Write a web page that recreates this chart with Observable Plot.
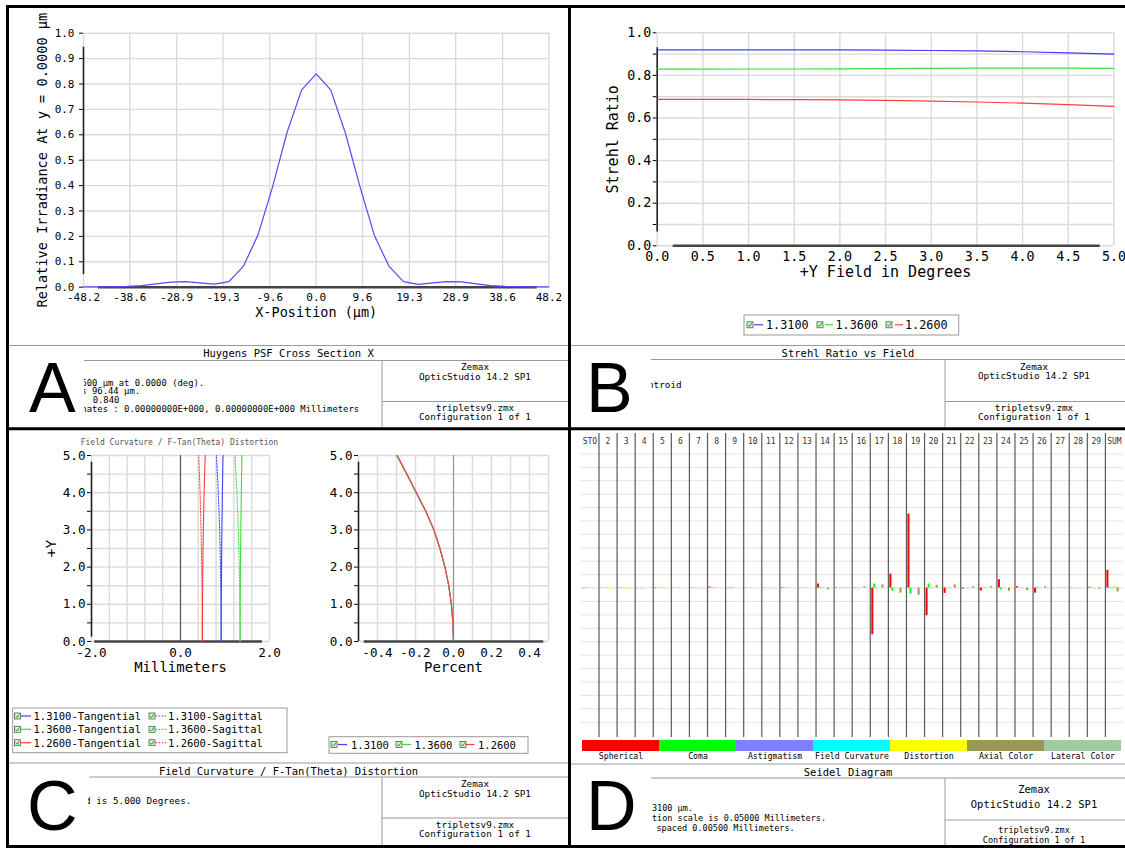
<!DOCTYPE html>
<html><head><meta charset="utf-8">
<script src="https://cdn.jsdelivr.net/npm/d3@7"></script>
<script src="https://cdn.jsdelivr.net/npm/@observablehq/plot@0.6"></script>
<style>
html,body{margin:0;padding:0;background:#fff;}
#page{position:relative;width:1125px;height:848px;overflow:hidden;background:#fff;}
.wrap{position:absolute;}
</style>
</head><body><div id="page"></div>
<script>
// ---------------- DATA ----------------
// Panel A: Huygens PSF cross section
const psfX = [-48.20,-45.19,-42.18,-39.16,-36.15,-33.14,-30.13,-27.11,-24.10,-21.09,-18.08,-15.06,-12.05,-9.04,-6.03,-3.01,0,3.01,6.03,9.04,12.05,15.06,18.08,21.09,24.10,27.11,30.13,33.14,36.15,39.16,42.18,45.19,48.20];
const psfY = [0.001,0.001,0.002,0.003,0.006,0.013,0.020,0.022,0.017,0.012,0.022,0.083,0.206,0.395,0.610,0.777,0.840,0.777,0.608,0.398,0.204,0.083,0.022,0.011,0.017,0.022,0.021,0.013,0.006,0.003,0.002,0.001,0.001];
const psfXTicks = [-48.2,-38.6,-28.9,-19.3,-9.6,0,9.6,19.3,28.9,38.6,48.2];
const unitTicks = [0,0.1,0.2,0.3,0.4,0.5,0.6,0.7,0.8,0.9,1.0];

// Panel B: Strehl ratio vs field
const fieldDeg = [0,0.5,1.0,1.5,2.0,2.5,3.0,3.5,4.0,4.5,5.0];
const strehl1310 = [0.920,0.920,0.920,0.920,0.920,0.919,0.917,0.915,0.911,0.906,0.900];
const strehl1360 = [0.829,0.829,0.830,0.830,0.831,0.832,0.833,0.834,0.834,0.834,0.833];
const strehl1260 = [0.687,0.687,0.687,0.686,0.685,0.683,0.679,0.675,0.670,0.663,0.655];
const wavelengths = ["1.3100","1.3600","1.2600"];
const waveColors = ["#3f3fff","#3ddd3d","#ff3f3f"];

// Panel C: field curvature (mm) and distortion (%)
const fcField = [0,1,2,3,4,5];
const tan1310 = [0.914,0.916,0.922,0.930,0.941,0.955];
const sag1310 = [0.914,0.910,0.899,0.880,0.850,0.808];
const tan1360 = [1.339,1.341,1.347,1.356,1.366,1.380];
const sag1360 = [1.339,1.335,1.322,1.300,1.268,1.224];
const tan1260 = [0.490,0.493,0.500,0.513,0.530,0.555];
const sag1260 = [0.490,0.487,0.478,0.462,0.440,0.410];
const distField = [0,0.5,1.0,1.5,2.0,2.5,3.0,3.5,4.0,4.5,5.0];
const dist1310 = [0,-0.003,-0.011,-0.025,-0.045,-0.071,-0.103,-0.146,-0.196,-0.246,-0.297];
const dist1360 = [0,-0.003,-0.011,-0.025,-0.045,-0.072,-0.104,-0.147,-0.197,-0.247,-0.299];
const dist1260 = [0,-0.003,-0.011,-0.025,-0.045,-0.071,-0.103,-0.145,-0.195,-0.245,-0.296];
const fcXGrid = [-2,-1.6,-1.2,-0.8,-0.4,0,0.4,0.8,1.2,1.6,2];
const fcXTicks = [-2,0,2];
const fcYTicks = [0,0.5,1,1.5,2,2.5,3,3.5,4,4.5,5];
const distXGrid = [-0.5,-0.4,-0.3,-0.2,-0.1,0,0.1,0.2,0.3,0.4,0.5];
const distXTicks = [-0.4,-0.2,0,0.2,0.4];

// Panel D: Seidel diagram (mm)
const seidelCols = ["STO","2","3","4","5","6","7","8","9","10","11","12","13","14","15","16","17","18","19","20","21","22","23","24","25","26","27","28","29","SUM"];
const seidelComps = ["Spherical","Coma","Astigmatism","Field Curvature","Distortion","Axial Color","Lateral Color"];
const seidelColors = ["#ff0000","#00ff00","#8080ff","#00ffff","#ffff00","#999955","#9fcc9f"];
const spherical   = [0.0001,0.0001,-0.0001,0.0001,-0.0002,0.0001,0.0001,0.0004,0.0001,0.0001,0.0001,0.0002,0.0001,0.0015,0.0002,0.0001,-0.0174,0.0052,0.0276,-0.0103,-0.0020,-0.0004,-0.0011,0.0031,0.0005,-0.0019,0.0001,0.0001,0.0003,0.0066];
const coma        = [0.0001,0,0.0001,0,0.0001,0,0,0.0001,0.0001,0,0,0.0001,0,0.0002,0,0.0001,0.0015,-0.0012,-0.0022,0.0015,0.0001,0,0.0001,-0.0007,0.0001,0.0003,0,0,0.0001,0.0002];
const astigmatism = [0.0001,0.0001,0.0001,0.0001,0.0001,0.0001,0.0001,0.0001,-0.0002,0.0001,0.0001,0.0001,0.0001,0.0001,0.0001,0.0001,0.0002,0.0001,0.0001,0.0001,0.0001,0.0001,0.0001,0.0001,0.0001,0.0001,0.0001,0.0001,0.0001,0.0001];
const fieldCurv   = [0.0001,0.0001,0.0001,0.0001,0.0001,0.0001,0.0001,0.0002,0.0001,0.0001,0.0001,0.0001,0.0001,0.0001,0.0001,0.0001,0.0001,0.0001,0.0001,0.0001,0.0001,0.0001,0.0001,0.0001,0.0001,0.0001,0.0001,0.0001,0.0001,0.0003];
const distortion  = [0.0001,0.0004,-0.0005,0.0001,0.0004,0.0002,-0.0002,0.0001,0.0002,0.0001,0.0001,-0.0002,0.0001,0.0001,0.0001,0,0.0001,0.0001,0,0.0001,0,0,0,0,0,0,0.0001,0.0001,0.0001,0.0007];
const axialColor  = [0,0,0,0,0,0,0,0,0,0,0,0,0,-0.0007,0.0002,0.0005,0.0012,-0.0019,-0.0027,0.0010,0.0012,0.0005,0.0005,-0.0012,-0.0009,0.0005,0.0001,0.0001,-0.0005,-0.0015];
const lateralColor= [0.0001,0.0001,0.0001,0.0001,0.0001,0.0001,0.0001,0.0001,0.0001,0.0001,0.0001,0.0001,0.0001,0.0001,0.0001,0.0001,0.0001,0.0001,0.0001,0.0001,0.0001,0.0001,0.0001,0.0001,0.0001,0.0001,0.0001,0.0001,0.0001,-0.0002];
const seidelGrid = [-0.05,-0.045,-0.04,-0.035,-0.03,-0.025,-0.02,-0.015,-0.01,-0.005,0,0.005,0.01,0.015,0.02,0.025,0.03,0.035,0.04,0.045,0.05];

// ---------------- HELPERS ----------------
const MONO = "'DejaVu Sans Mono','Liberation Mono',monospace";
const page = document.getElementById("page");
function place(el, left, top, width) {
  const d = document.createElement("div");
  d.className = "wrap";
  d.style.left = left + "px"; d.style.top = top + "px"; d.style.width = width + "px";
  d.appendChild(el); page.appendChild(d);
}
const baseStyle = (fs) => ({background: "transparent", fontFamily: MONO, fontSize: fs, color: "#000", overflow: "visible"});
const GRID = "#dadada";
const span = (dom, a, b) => [dom[0] + a * (dom[1] - dom[0]), dom[0] + b * (dom[1] - dom[0])];

// ---------------- PANEL A ----------------
{
  const xd = [-48.2, 48.2], yd = [0, 1];
  const pts = psfX.map((x, i) => ({x, y: psfY[i]}));
  const [ya, yb] = span(yd, 0.05, 0.945), [xa, xb] = span(xd, 0.032, 0.975);
  place(Plot.plot({
    width: 559, height: 330, marginLeft: 74, marginRight: 19.6, marginTop: 24.7, marginBottom: 51.3,
    x: {domain: xd, ticks: psfXTicks, tickFormat: d => d.toFixed(1), tickSize: 0, tickPadding: 6, label: null},
    y: {domain: yd, ticks: unitTicks, tickFormat: d => d.toFixed(1), tickSize: 4, tickPadding: 5, label: null},
    style: baseStyle("11px"),
    marks: [
      Plot.ruleX(psfXTicks, {stroke: GRID, strokeWidth: 1.4}),
      Plot.ruleY(unitTicks, {stroke: GRID, strokeWidth: 1.4}),
      Plot.ruleX([xd[0]], {y1: ya, y2: yb, stroke: "#222", strokeWidth: 1.6}),
      Plot.ruleY([yd[0]], {x1: xa, x2: xb, stroke: "#444", strokeWidth: 2.4}),
      Plot.line(pts, {x: "x", y: "y", stroke: "#4d4dff", strokeWidth: 1.2}),
      Plot.text(["X-Position (µm)"], {frameAnchor: "bottom", dy: 29.5, text: d => d, fontSize: 13.5}),
      Plot.text(["Relative Irradiance At y = 0.0000 µm"], {frameAnchor: "left", textAnchor: "middle", dx: -41.2, rotate: -90, text: d => d, fontSize: 13.6})
    ]
  }), 9, 8, 559);
}

// ---------------- PANEL B ----------------
{
  const xd = [0, 5], yd = [0, 1];
  const series = [strehl1310, strehl1360, strehl1260];
  const rows = series.flatMap((s, k) => s.map((v, i) => ({x: fieldDeg[i], y: v, w: wavelengths[k]})));
  const [ya, yb] = span(yd, 0.065, 0.93), [xa, xb] = span(xd, 0.035, 0.97);
  place(Plot.plot({
    width: 550, height: 300, marginLeft: 84.7, marginRight: 8.6, marginTop: 24.3, marginBottom: 62.7,
    x: {domain: xd, ticks: fieldDeg, tickFormat: d => d.toFixed(1), tickSize: 0, tickPadding: 5.5, label: null},
    y: {domain: yd, ticks: unitTicks, tickFormat: d => (Math.round(d * 10) % 2 ? "" : d.toFixed(1)), tickSize: 4, tickPadding: 2, label: null},
    color: {domain: wavelengths, range: waveColors},
    style: baseStyle("13.3px"),
    marks: [
      Plot.ruleX(fieldDeg, {stroke: GRID, strokeWidth: 1.4}),
      Plot.ruleY(unitTicks, {stroke: GRID, strokeWidth: 1.4}),
      Plot.ruleX([xd[0]], {y1: ya, y2: yb, stroke: "#222", strokeWidth: 1.6}),
      Plot.ruleY([yd[0]], {x1: xa, x2: xb, stroke: "#444", strokeWidth: 2.4}),
      Plot.line(rows, {x: "x", y: "y", z: "w", stroke: "w", strokeWidth: 1.2}),
      Plot.text(["+Y Field in Degrees"], {frameAnchor: "bottom", dy: 31.5, text: d => d, fontSize: 15}),
      Plot.text(["Strehl Ratio"], {frameAnchor: "left", textAnchor: "middle", dx: -44.2, rotate: -90, text: d => d, fontSize: 15})
    ]
  }), 572, 8, 550);
}

// ---------------- PANEL C (left: field curvature) ----------------
{
  const xd = [-2, 2], yd = [0, 5];
  const defs = [
    {s: tan1310, w: "1.3100", t: "T"}, {s: sag1310, w: "1.3100", t: "S"},
    {s: tan1360, w: "1.3600", t: "T"}, {s: sag1360, w: "1.3600", t: "S"},
    {s: tan1260, w: "1.2600", t: "T"}, {s: sag1260, w: "1.2600", t: "S"}
  ];
  const rowsT = defs.filter(d => d.t === "T").flatMap(d => d.s.map((v, i) => ({x: v, y: fcField[i], w: d.w})));
  const rowsS = defs.filter(d => d.t === "S").flatMap(d => d.s.map((v, i) => ({x: v, y: fcField[i], w: d.w})));
  const [ya, yb] = span(yd, 0.024, 0.964), [xa, xb] = span(xd, 0.018, 0.96);
  place(Plot.plot({
    width: 290, height: 235, marginLeft: 82, marginRight: 30, marginTop: 10, marginBottom: 39,
    x: {domain: xd, ticks: fcXTicks, tickFormat: d => d.toFixed(1), tickSize: 0, tickPadding: 6.5, label: null},
    y: {domain: yd, ticks: fcYTicks, tickFormat: d => (d % 1 ? "" : d.toFixed(1)), tickSize: 4, tickPadding: 2, label: null},
    color: {domain: wavelengths, range: waveColors},
    style: baseStyle("12.6px"),
    marks: [
      Plot.ruleX(fcXGrid, {stroke: GRID, strokeWidth: 1.4}),
      Plot.ruleY(fcYTicks, {stroke: GRID, strokeWidth: 1.4}),
      Plot.ruleX([xd[0]], {y1: ya, y2: yb, stroke: "#222", strokeWidth: 1.6}),
      Plot.ruleY([yd[0]], {x1: xa, x2: xb, stroke: "#444", strokeWidth: 2.4}),
      Plot.ruleX([0], {stroke: "#555", strokeWidth: 1.2}),
      Plot.line(rowsS, {x: "x", y: "y", z: "w", stroke: "w", strokeWidth: 1, strokeDasharray: "1.5,1.5"}),
      Plot.line(rowsT, {x: "x", y: "y", z: "w", stroke: "w", strokeWidth: 1.1}),
      Plot.text(["Millimeters"], {frameAnchor: "bottom", dy: 30.5, text: d => d, fontSize: 14}),
      Plot.text(["+Y"], {frameAnchor: "left", textAnchor: "middle", dx: -40, rotate: -90, text: d => d, fontSize: 14.5})
    ]
  }), 9, 445, 290);
}

// ---------------- PANEL C (right: distortion) ----------------
{
  const xd = [-0.5, 0.5], yd = [0, 5];
  const series = [dist1310, dist1360, dist1260];
  const rows = series.flatMap((s, k) => s.map((v, i) => ({x: v, y: distField[i], w: wavelengths[k]})));
  const [ya, yb] = span(yd, 0.0, 0.964), [xa, xb] = span(xd, 0.03, 0.975);
  place(Plot.plot({
    width: 268, height: 235, marginLeft: 58, marginRight: 20, marginTop: 10, marginBottom: 39,
    x: {domain: xd, ticks: distXTicks, tickFormat: d => d.toFixed(1), tickSize: 0, tickPadding: 6.5, label: null},
    y: {domain: yd, ticks: fcYTicks, tickFormat: d => (d % 1 ? "" : d.toFixed(1)), tickSize: 4, tickPadding: 2, label: null},
    color: {domain: wavelengths, range: waveColors},
    style: baseStyle("12.6px"),
    marks: [
      Plot.ruleX(distXGrid, {stroke: GRID, strokeWidth: 1.4}),
      Plot.ruleY(fcYTicks, {stroke: GRID, strokeWidth: 1.4}),
      Plot.ruleX([xd[0]], {y1: ya, y2: yb, stroke: "#222", strokeWidth: 1.6}),
      Plot.ruleY([yd[0]], {x1: xa, x2: xb, stroke: "#444", strokeWidth: 2.4}),
      Plot.ruleX([0], {stroke: "#999", strokeWidth: 1.2}),
      Plot.line(rows, {x: "x", y: "y", z: "w", stroke: "w", strokeWidth: 1.1}),
      Plot.text(["Percent"], {frameAnchor: "bottom", dy: 30.5, text: d => d, fontSize: 14})
    ]
  }), 300, 445, 268);
}

// ---------------- PANEL D (Seidel) ----------------
{
  const comps = [spherical, coma, astigmatism, fieldCurv, distortion, axialColor, lateralColor];
  const rows = comps.flatMap((arr, k) => arr.map((v, i) => ({i, k, v, c: seidelComps[k]})));
  const nCols = seidelCols.length;
  const pad = 0.083, bw = 0.1117;
  const seps = seidelCols.slice(1).map((d, i) => i + 1);
  const yd = [-0.0557, 0.0576];
  place(Plot.plot({
    width: 552, height: 310, marginLeft: 8.4, marginRight: 1, marginTop: 2, marginBottom: 4,
    x: {domain: [0, nCols], axis: null},
    y: {domain: yd, axis: null},
    color: {domain: seidelComps, range: seidelColors},
    style: baseStyle("8px"),
    marks: [
      Plot.ruleY(seidelGrid, {stroke: "#e3e3e3", strokeWidth: 1}),
      Plot.ruleX(seps, {stroke: "#5a5a5a", strokeWidth: 1.2}),
      Plot.rect(rows, {x1: d => d.i + pad + d.k * bw, x2: d => d.i + pad + (d.k + 1) * bw, y1: () => 0, y2: "v", fill: "c"}),
      Plot.text(seidelCols, {x: (d, i) => i + 0.5, frameAnchor: "top", dy: 5, text: d => d, fontSize: 8, fill: "#333"})
    ]
  }), 572, 431, 552);
  // colour key of the Seidel diagram
  place(Plot.plot({
    width: 552, height: 25, marginLeft: 8.4, marginRight: 2, marginTop: 2, marginBottom: 12,
    x: {domain: seidelComps, padding: 0, tickSize: 0, tickPadding: 1.5, label: null},
    y: {axis: null},
    color: {domain: seidelComps, range: seidelColors},
    style: baseStyle("8.2px"),
    marks: [Plot.cell(seidelComps, {x: d => d, fill: d => d})]
  }), 572, 738, 552);
}

// ---------------- FRAMES, INFO BOXES, LEGENDS ----------------
{
  let o = `<svg xmlns="http://www.w3.org/2000/svg" width="1125" height="848" style="position:absolute;left:0;top:0;pointer-events:none" font-family="${MONO}">`;
  o += `<defs>
    <clipPath id="cA"><rect x="84" y="362" width="297" height="64"/></clipPath>
    <clipPath id="cB"><rect x="651" y="361" width="293" height="64"/></clipPath>
    <clipPath id="cC"><rect x="88" y="778" width="293" height="66"/></clipPath>
  </defs>`;
  const line = (x1, y1, x2, y2, c = "#999", w = 1) => `<line x1="${x1}" y1="${y1}" x2="${x2}" y2="${y2}" stroke="${c}" stroke-width="${w}"/>`;
  const t = (x, y, s, fs, anchor = "middle", fill = "#000") => `<text x="${x}" y="${y}" font-size="${fs}" text-anchor="${anchor}" dominant-baseline="central" fill="${fill}">${s}</text>`;
  // gray info lines
  o += line(9, 345.5, 568, 345.5) + line(84, 360.5, 568, 360.5) + line(382, 360.5, 382, 427) + line(382, 401.5, 568, 401.5);
  o += line(571, 345.5, 1125, 345.5) + line(651, 359.5, 1125, 359.5) + line(945, 359.5, 945, 427) + line(945, 401.5, 1125, 401.5);
  o += line(9, 763, 568, 763) + line(89, 777, 568, 777) + line(382, 777, 382, 845) + line(382, 818, 568, 818);
  o += line(571, 764, 1125, 764) + line(651, 778, 1125, 778) + line(945, 778, 945, 845) + line(945, 820, 1125, 820);
  // titles
  o += t(288.5, 353, "Huygens PSF Cross Section X", 10.5);
  o += t(848, 353, "Strehl Ratio vs Field", 10.5);
  o += t(288.5, 770.5, "Field Curvature / F-Tan(Theta) Distortion", 10.5);
  o += t(848, 771.5, "Seidel Diagram", 10.5);
  // right boxes
  const box = (cx, ys, fsz) => t(cx, ys[0], "Zemax", fsz[0]) + t(cx, ys[1], "OpticStudio 14.2 SP1", fsz[0]) + t(cx, ys[2], "tripletsv9.zmx", fsz[1]) + t(cx, ys[3], "Configuration 1 of 1", fsz[1]);
  o += box(475, [366.5, 376, 407, 416.5], [9.3, 9.3]);
  o += box(1034, [366, 375.5, 407, 416.5], [9.3, 9.3]);
  o += box(475, [783.5, 793, 824, 833.5], [9.3, 9.3]);
  o += box(1034, [789, 804, 830, 840], [10.5, 8.5]);
  // left info text (partly hidden by the panel letters)
  o += `<g clip-path="url(#cA)">` + t(81.3, 382.5, "600 µm at 0.0000 (deg).", 8.9, "start") + t(81.3, 391.2, "s 96.44 µm.", 8.9, "start") + t(92.7, 399.9, "0.840", 8.9, "start") + t(81.3, 408.6, "nates : 0.00000000E+000,  0.00000000E+000 Millimeters", 8.9, "start") + `</g>`;
  o += `<g clip-path="url(#cB)">` + t(648, 384, "ntroid", 9.3, "start") + `</g>`;
  o += `<g clip-path="url(#cC)">` + t(85, 800.7, "d is 5.000 Degrees.", 9.3, "start") + `</g>`;
  o += t(652, 808, "3100 µm.", 8.5, "start") + t(652, 818, "tion scale is 0.05000 Millimeters.", 8.5, "start") + t(656.5, 828, "spaced 0.00500 Millimeters.", 8.5, "start");
  // small subtitle in panel C
  o += t(80.7, 442.7, "Field Curvature / F-Tan(Theta) Distortion", 8, "start", "#555");
  // legends
  const icon = (x, y) => `<rect x="${x}" y="${y - 3}" width="6" height="6" fill="#dcefdc" stroke="#3d6b3d" stroke-width="0.8"/><path d="M${x + 1.2},${y} L${x + 2.6},${y + 1.6} L${x + 4.9},${y - 1.8}" fill="none" stroke="#17a017" stroke-width="1"/>`;
  const item = (x, y, col, dashed, label, fs, lx1, lx2, tx) => icon(x, y) + `<line x1="${lx1}" y1="${y}" x2="${lx2}" y2="${y}" stroke="${col}" stroke-width="1.2" ${dashed ? 'stroke-dasharray="1.5,1.5"' : ""}/>` + t(tx, y, label, fs, "start");
  // B legend
  o += `<rect x="744" y="315" width="214.7" height="20" fill="none" stroke="#999" stroke-width="1"/>`;
  o += item(747, 324.8, waveColors[0], false, wavelengths[0], 11.8, 754, 763, 766);
  o += item(817, 324.8, waveColors[1], false, wavelengths[1], 11.8, 825, 833, 835.5);
  o += item(886, 324.8, waveColors[2], false, wavelengths[2], 11.8, 895, 903, 905);
  // C left legend
  o += `<rect x="12.7" y="708" width="274.3" height="44.7" fill="none" stroke="#999" stroke-width="1"/>`;
  [716, 729.3, 742.7].forEach((y, k) => {
    o += item(14.5, y, waveColors[k], false, wavelengths[k] + "-Tangential", 10.5, 21, 31, 33.5);
    o += item(149, y, waveColors[k], true, wavelengths[k] + "-Sagittal", 10.5, 155.6, 167, 168);
  });
  // C right legend
  o += `<rect x="329" y="736.7" width="199" height="16.6" fill="none" stroke="#999" stroke-width="1"/>`;
  o += item(331, 744.5, waveColors[0], false, wavelengths[0], 10.5, 338, 347, 351);
  o += item(396, 744.5, waveColors[1], false, wavelengths[1], 10.5, 402, 411, 414.5);
  o += item(460, 744.5, waveColors[2], false, wavelengths[2], 10.5, 465.5, 474.5, 478);
  // panel letters
  const L = (x, y, s) => `<text x="${x}" y="${y}" font-family="'Liberation Sans',Arial,sans-serif" font-size="70" fill="#000">${s}</text>`;
  o += L(29, 412, "A") + L(586, 412, "B") + L(27, 830, "C") + L(586, 830, "D");
  // black frames (no right border: the picture is cut there)
  o += line(7.5, 5, 7.5, 848, "#000", 3) + line(6, 6.5, 1125, 6.5, "#000", 3) + line(6, 846.5, 1125, 846.5, "#000", 3);
  o += line(569.5, 6, 569.5, 847, "#000", 3) + line(7, 428.7, 1125, 428.7, "#000", 3);
  o += `</svg>`;
  const holder = document.createElement("div");
  holder.innerHTML = o;
  page.appendChild(holder.firstChild);
}
</script></body></html>
